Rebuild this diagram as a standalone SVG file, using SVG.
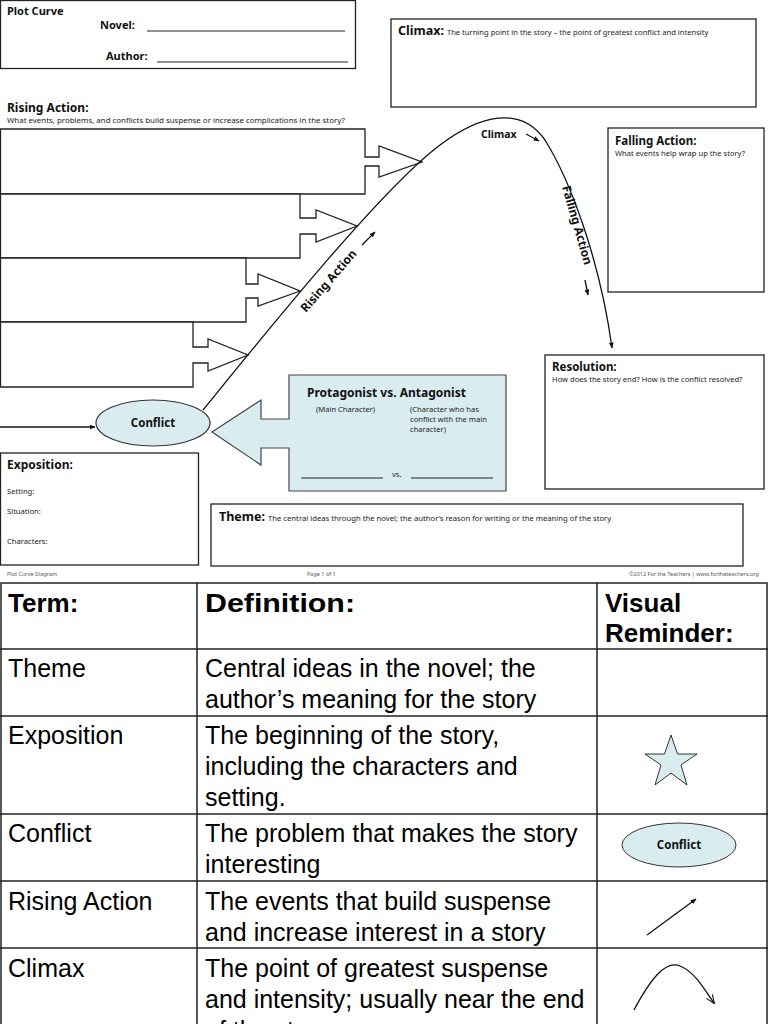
<svg xmlns="http://www.w3.org/2000/svg" width="768" height="1024" viewBox="0 0 768 1024">
<defs>
<style>
.box{fill:#fff;stroke:#222;stroke-width:1.3}
.blue{fill:#d9edf0;stroke:#444;stroke-width:1.2}
.h{font-family:"Noto Sans","DejaVu Sans",sans-serif;font-weight:bold;fill:#111}
.s{font-family:"Noto Sans","DejaVu Sans",sans-serif;fill:#222}
.ln{stroke:#222;stroke-width:1;fill:none}
.tbl{stroke:#222;stroke-width:1.5;fill:none}
.th{font-family:"Liberation Sans",Arial,sans-serif;font-weight:bold;font-size:26px;fill:#000}
.td{font-family:"Liberation Sans",Arial,sans-serif;font-size:25px;fill:#000}
.cur{stroke:#111;stroke-width:1.3;fill:none}
</style>
<marker id="ah" viewBox="0 0 10 10" refX="9" refY="5" markerWidth="6" markerHeight="6" orient="auto" markerUnits="userSpaceOnUse"><path d="M0,1 L10,5 L0,9 z" fill="#111"/></marker>
<marker id="ao" viewBox="0 0 10 10" refX="9" refY="5" markerWidth="9" markerHeight="9" orient="auto" markerUnits="userSpaceOnUse"><path d="M0,1 L10,5 L0,9" fill="none" stroke="#111" stroke-width="1.2"/></marker>
</defs>
<rect width="768" height="1024" fill="#fff"/>

<g id="plot-curve-header">
<rect class="box" x="0.5" y="0.5" width="355" height="68"/>
<text class="h" x="7" y="15" font-size="11">Plot Curve</text>
<text class="h" x="100" y="29" font-size="11">Novel:</text>
<line class="ln" x1="147" y1="31" x2="345" y2="31"/>
<text class="h" x="106" y="60" font-size="11">Author:</text>
<line class="ln" x1="157" y1="62" x2="348" y2="62"/>
</g>

<g id="climax-box">
<rect class="box" x="391" y="19" width="365" height="88"/>
<text x="398" y="35"><tspan class="h" font-size="12.5">Climax:</tspan><tspan class="s" font-size="7.6" dx="3">The turning point in the story – the point of greatest conflict and intensity</tspan></text>
</g>

<g id="rising-action-heading">
<text class="h" x="7" y="112" font-size="12">Rising Action:</text>
<text class="s" x="7" y="123" font-size="7.9">What events, problems, and conflicts build suspense or increase complications in the story?</text>
</g>

<g id="rising-box-1"><path class="box" d="M0.5,129 H365 V157 H379 V146 L422,162 L379,177 V166 H365 V194 H0.5 Z"/></g>
<g id="rising-box-2"><path class="box" d="M0.5,194 H300 V218 H316 V210 L357,226 L316,242 V234 H300 V258 H0.5 Z"/></g>
<g id="rising-box-3"><path class="box" d="M0.5,258 H246 V284 H258 V274 L300,291 L258,306 V298 H246 V322 H0.5 Z"/></g>
<g id="rising-box-4"><path class="box" d="M0.5,322 H193 V347 H208 V339 L248,355 L208,371 V363 H193 V387 H0.5 Z"/></g>

<g id="falling-action-box">
<rect class="box" x="608" y="128" width="156" height="164"/>
<text class="h" x="615" y="145" font-size="11.5">Falling Action:</text>
<text class="s" x="615" y="156" font-size="7.6">What events help wrap up the story?</text>
</g>

<g id="resolution-box">
<rect class="box" x="545" y="355" width="219" height="134"/>
<text class="h" x="552" y="371" font-size="11.5">Resolution:</text>
<text class="s" x="552" y="382" font-size="7.6">How does the story end?  How is the conflict resolved?</text>
</g>

<g id="connectors">
<path class="cur" d="M203,410 C260,340 380,190 440,145 C480,115 520,105 545,140 C570,180 600,260 612,348" marker-end="url(#ah)"/>
<line class="cur" x1="0" y1="427" x2="95" y2="427" marker-end="url(#ah)"/>
<line class="cur" x1="526" y1="134" x2="539" y2="141" stroke-width="1" marker-end="url(#ah)"/>
<line class="cur" x1="362" y1="245" x2="375" y2="232" stroke-width="1" marker-end="url(#ah)"/>
<line class="cur" x1="585" y1="280" x2="588" y2="295" stroke-width="1" marker-end="url(#ah)"/>
</g>

<g id="curve-labels">
<text class="h" x="481" y="138" font-size="10.5">Climax</text>
<text class="h" font-size="12" transform="translate(306,313) rotate(-49)">Rising Action</text>
<text class="h" font-size="12" transform="translate(562,187) rotate(74)">Falling Action</text>
</g>

<g id="conflict">
<ellipse cx="153" cy="423" rx="57" ry="23" fill="#d9edf0" stroke="#333" stroke-width="1.2"/>
<text class="h" x="153" y="427" font-size="11.5" text-anchor="middle">Conflict</text>
</g>

<g id="protagonist-antagonist">
<path class="blue" d="M289,375 H506 V491 H289 V448 H261 V465 L212,432 L261,400 V419 H289 Z"/>
<text class="h" x="307" y="397" font-size="12">Protagonist vs. Antagonist</text>
<text class="s" x="316" y="412" font-size="7.6">(Main Character)</text>
<text class="s" x="410" y="412" font-size="7.6">(Character who has</text>
<text class="s" x="410" y="422" font-size="7.6">conflict with the main</text>
<text class="s" x="410" y="432" font-size="7.6">character)</text>
<line class="ln" x1="301" y1="478" x2="383" y2="478"/>
<text class="s" x="392" y="477" font-size="7.6">vs.</text>
<line class="ln" x1="411" y1="478" x2="493" y2="478"/>
</g>

<g id="exposition-box">
<rect class="box" x="0.5" y="453" width="198" height="112"/>
<text class="h" x="7" y="469" font-size="12">Exposition:</text>
<text class="s" x="7" y="494" font-size="7.6">Setting:</text>
<text class="s" x="7" y="514" font-size="7.6">Situation:</text>
<text class="s" x="7" y="544" font-size="7.6">Characters:</text>
</g>

<g id="theme-box">
<rect class="box" x="211" y="504" width="532" height="62"/>
<text x="219" y="521"><tspan class="h" font-size="12.5">Theme:</tspan><tspan class="s" font-size="7.7" dx="3">The central ideas through the novel; the author’s reason for writing or the meaning of the story</tspan></text>
</g>

<g id="footer" font-family="'Noto Sans',sans-serif" font-size="5.5" fill="#555">
<text x="7" y="576">Plot Curve Diagram</text>
<text x="307" y="576">Page 1 of 1</text>
<text x="759" y="576" text-anchor="end">©2012 For the Teachers | www.fortheteachers.org</text>
</g>

<g id="table">
<rect class="tbl" x="1" y="583" width="766" height="460"/>
<line class="tbl" x1="197" y1="583" x2="197" y2="1024"/>
<line class="tbl" x1="597" y1="583" x2="597" y2="1024"/>
<line class="tbl" x1="0" y1="649" x2="768" y2="649"/>
<line class="tbl" x1="0" y1="716" x2="768" y2="716"/>
<line class="tbl" x1="0" y1="814" x2="768" y2="814"/>
<line class="tbl" x1="0" y1="881" x2="768" y2="881" stroke-width="2.5"/>
<line class="tbl" x1="0" y1="948" x2="768" y2="948"/>
<text class="th" x="8" y="612">Term:</text>
<text class="th" x="205" y="612" textLength="150" lengthAdjust="spacingAndGlyphs">Definition:</text>
<text class="th" x="605" y="612">Visual</text>
<text class="th" x="605" y="642">Reminder:</text>

<text class="td" x="8" y="677">Theme</text>
<text class="td" x="205" y="677">Central ideas in the novel; the</text>
<text class="td" x="205" y="708">author’s meaning for the story</text>

<text class="td" x="8" y="744">Exposition</text>
<text class="td" x="205" y="744">The beginning of the story,</text>
<text class="td" x="205" y="775">including the characters and</text>
<text class="td" x="205" y="806">setting.</text>

<text class="td" x="8" y="842">Conflict</text>
<text class="td" x="205" y="842">The problem that makes the story</text>
<text class="td" x="205" y="873">interesting</text>

<text class="td" x="8" y="910">Rising Action</text>
<text class="td" x="205" y="910">The events that build suspense</text>
<text class="td" x="205" y="941">and increase interest in a story</text>

<text class="td" x="8" y="977">Climax</text>
<text class="td" x="205" y="977">The point of greatest suspense</text>
<text class="td" x="205" y="1008">and intensity; usually near the end</text>
<text class="td" x="205" y="1039">of the story</text>
</g>

<g id="reminder-star">
<polygon points="671,735 677.5,754 697,754 681,765 687,785 671,773 655,785 661,765 645,754 664.5,754" fill="#d9edf0" stroke="#333" stroke-width="1"/>
</g>
<g id="reminder-conflict">
<ellipse cx="679" cy="845" rx="57" ry="22" fill="#d9edf0" stroke="#333" stroke-width="1"/>
<text class="h" x="679" y="849" font-size="11.5" text-anchor="middle">Conflict</text>
</g>
<g id="reminder-rising">
<line class="cur" x1="647" y1="935" x2="696" y2="899" marker-end="url(#ah)"/>
</g>
<g id="reminder-climax">
<path class="cur" d="M634,1010 C650,980 665,960 680,966 C695,972 705,990 714,1003" marker-end="url(#ao)"/>
</g>
</svg>
